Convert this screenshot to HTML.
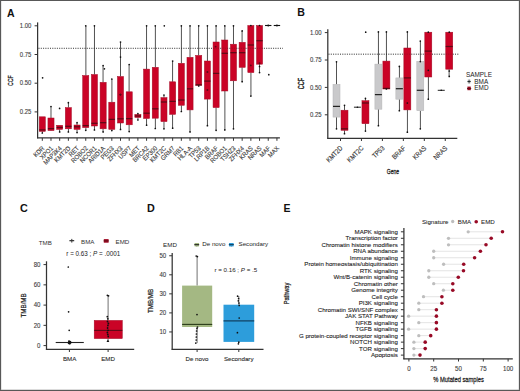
<!DOCTYPE html>
<html><head><meta charset="utf-8"><style>
html,body{margin:0;padding:0;background:#fff;}
body{width:520px;height:391px;overflow:hidden;}
svg{display:block;}
text{font-family:"Liberation Sans", sans-serif;}
</style></head><body>
<svg width="520" height="391" viewBox="0 0 520 391">
<rect x="0" y="0" width="520" height="391" fill="#fff"/>
<text transform="translate(7,16.6)" font-size="10.5" text-anchor="start" fill="#111" font-weight="bold" >A</text>
<line x1="34.6" y1="25.8" x2="37.6" y2="25.8" stroke="#333333" stroke-width="1" />
<text transform="translate(31.4,27.9) scale(0.93,1)" font-size="6.4" text-anchor="end" fill="#3a3a3a" font-weight="normal" stroke="#3a3a3a" stroke-width="0.1" >1.00</text>
<line x1="34.6" y1="54.5" x2="37.6" y2="54.5" stroke="#333333" stroke-width="1" />
<text transform="translate(31.4,56.6) scale(0.93,1)" font-size="6.4" text-anchor="end" fill="#3a3a3a" font-weight="normal" stroke="#3a3a3a" stroke-width="0.1" >0.75</text>
<line x1="34.6" y1="83.2" x2="37.6" y2="83.2" stroke="#333333" stroke-width="1" />
<text transform="translate(31.4,85.3) scale(0.93,1)" font-size="6.4" text-anchor="end" fill="#3a3a3a" font-weight="normal" stroke="#3a3a3a" stroke-width="0.1" >0.50</text>
<line x1="34.6" y1="111.9" x2="37.6" y2="111.9" stroke="#333333" stroke-width="1" />
<text transform="translate(31.4,114) scale(0.93,1)" font-size="6.4" text-anchor="end" fill="#3a3a3a" font-weight="normal" stroke="#3a3a3a" stroke-width="0.1" >0.25</text>
<line x1="37.6" y1="22.4" x2="37.6" y2="138.3" stroke="#333333" stroke-width="1.25" />
<line x1="37" y1="137.9" x2="279.9" y2="137.9" stroke="#333333" stroke-width="1.25" />
<text transform="translate(12.8,80.7) rotate(-90) scale(0.66,1)" font-size="7.8" text-anchor="middle" fill="#222" font-weight="normal" stroke="#222" stroke-width="0.3" >CCF</text>
<line x1="38.5" y1="48.3" x2="283" y2="48.3" stroke="#222" stroke-width="0.8" stroke-dasharray="1,1.3"/>
<line x1="42.3" y1="137.9" x2="42.3" y2="140.8" stroke="#333333" stroke-width="1" />
<line x1="42.4" y1="131.4" x2="42.4" y2="133" stroke="#262626" stroke-width="0.8" />
<rect x="39.25" y="116.8" width="6.1" height="14.6" fill="#ca0326" stroke="#a30d26" stroke-width="0.5"/>
<line x1="39.25" y1="129.9" x2="45.35" y2="129.9" stroke="#5c0a16" stroke-width="1.25" />
<circle cx="42.6" cy="77.8" r="0.85" fill="#111"/>
<circle cx="42.3" cy="133" r="0.85" fill="#111"/>
<text transform="translate(44.8,148.7) rotate(-45) scale(0.9,1)" font-size="6.5" text-anchor="end" fill="#3a3a3a" font-weight="normal" stroke="#3a3a3a" stroke-width="0.12" >KDR</text>
<line x1="50.99" y1="137.9" x2="50.99" y2="140.8" stroke="#333333" stroke-width="1" />
<line x1="50.99" y1="106.5" x2="50.99" y2="118" stroke="#262626" stroke-width="0.8" />
<line x1="50.99" y1="130.6" x2="50.99" y2="131" stroke="#262626" stroke-width="0.8" />
<rect x="47.94" y="118" width="6.1" height="12.6" fill="#ca0326" stroke="#a30d26" stroke-width="0.5"/>
<line x1="47.94" y1="128.6" x2="54.04" y2="128.6" stroke="#5c0a16" stroke-width="1.25" />
<circle cx="50.99" cy="106.5" r="0.85" fill="#111"/>
<text transform="translate(53.49,148.7) rotate(-45) scale(0.9,1)" font-size="6.5" text-anchor="end" fill="#3a3a3a" font-weight="normal" stroke="#3a3a3a" stroke-width="0.12" >XPO1</text>
<line x1="59.68" y1="137.9" x2="59.68" y2="140.8" stroke="#333333" stroke-width="1" />
<line x1="59.59" y1="129.4" x2="59.59" y2="131.9" stroke="#262626" stroke-width="0.8" />
<rect x="56.63" y="125.3" width="6.1" height="4.1" fill="#ca0326" stroke="#a30d26" stroke-width="0.5"/>
<line x1="56.63" y1="127.5" x2="62.73" y2="127.5" stroke="#5c0a16" stroke-width="1.25" />
<circle cx="59.6" cy="108.4" r="0.85" fill="#111"/>
<circle cx="59.68" cy="131.9" r="0.85" fill="#111"/>
<text transform="translate(62.18,148.7) rotate(-45) scale(0.9,1)" font-size="6.5" text-anchor="end" fill="#3a3a3a" font-weight="normal" stroke="#3a3a3a" stroke-width="0.12" >MAP3K4</text>
<line x1="68.37" y1="137.9" x2="68.37" y2="140.8" stroke="#333333" stroke-width="1" />
<line x1="68.44" y1="102.7" x2="68.44" y2="107.6" stroke="#262626" stroke-width="0.8" />
<line x1="68.44" y1="128.8" x2="68.44" y2="131.9" stroke="#262626" stroke-width="0.8" />
<rect x="65.32" y="107.6" width="6.1" height="21.2" fill="#ca0326" stroke="#a30d26" stroke-width="0.5"/>
<line x1="65.32" y1="126.3" x2="71.42" y2="126.3" stroke="#5c0a16" stroke-width="1.25" />
<circle cx="68.37" cy="102.7" r="0.85" fill="#111"/>
<circle cx="68.37" cy="131.9" r="0.85" fill="#111"/>
<text transform="translate(70.87,148.7) rotate(-45) scale(0.9,1)" font-size="6.5" text-anchor="end" fill="#3a3a3a" font-weight="normal" stroke="#3a3a3a" stroke-width="0.12" >KMT2D</text>
<line x1="77.06" y1="137.9" x2="77.06" y2="140.8" stroke="#333333" stroke-width="1" />
<line x1="77.03" y1="122.7" x2="77.03" y2="125" stroke="#262626" stroke-width="0.8" />
<line x1="77.03" y1="129.4" x2="77.03" y2="132.6" stroke="#262626" stroke-width="0.8" />
<rect x="74.01" y="125" width="6.1" height="4.4" fill="#ca0326" stroke="#a30d26" stroke-width="0.5"/>
<line x1="74.01" y1="126.8" x2="80.11" y2="126.8" stroke="#5c0a16" stroke-width="1.25" />
<circle cx="77.06" cy="122.7" r="0.85" fill="#111"/>
<circle cx="77.06" cy="132.6" r="0.85" fill="#111"/>
<text transform="translate(79.56,148.7) rotate(-45) scale(0.9,1)" font-size="6.5" text-anchor="end" fill="#3a3a3a" font-weight="normal" stroke="#3a3a3a" stroke-width="0.12" >RET</text>
<line x1="85.75" y1="137.9" x2="85.75" y2="140.8" stroke="#333333" stroke-width="1" />
<line x1="85.88" y1="25.8" x2="85.88" y2="75.5" stroke="#262626" stroke-width="0.8" />
<line x1="85.88" y1="127.6" x2="85.88" y2="130.3" stroke="#262626" stroke-width="0.8" />
<rect x="82.7" y="75.5" width="6.1" height="52.1" fill="#ca0326" stroke="#a30d26" stroke-width="0.5"/>
<line x1="82.7" y1="125.6" x2="88.8" y2="125.6" stroke="#5c0a16" stroke-width="1.25" />
<circle cx="85.75" cy="25.8" r="0.85" fill="#111"/>
<circle cx="85.75" cy="130.3" r="0.85" fill="#111"/>
<text transform="translate(88.25,148.7) rotate(-45) scale(0.9,1)" font-size="6.5" text-anchor="end" fill="#3a3a3a" font-weight="normal" stroke="#3a3a3a" stroke-width="0.12" >ROBO2</text>
<line x1="94.44" y1="137.9" x2="94.44" y2="140.8" stroke="#333333" stroke-width="1" />
<line x1="94.47" y1="25.8" x2="94.47" y2="74.5" stroke="#262626" stroke-width="0.8" />
<line x1="94.47" y1="126" x2="94.47" y2="129.9" stroke="#262626" stroke-width="0.8" />
<rect x="91.39" y="74.5" width="6.1" height="51.5" fill="#ca0326" stroke="#a30d26" stroke-width="0.5"/>
<line x1="91.39" y1="123.3" x2="97.49" y2="123.3" stroke="#5c0a16" stroke-width="1.25" />
<circle cx="94.44" cy="25.8" r="0.85" fill="#111"/>
<circle cx="94.44" cy="129.9" r="0.85" fill="#111"/>
<text transform="translate(96.94,148.7) rotate(-45) scale(0.9,1)" font-size="6.5" text-anchor="end" fill="#3a3a3a" font-weight="normal" stroke="#3a3a3a" stroke-width="0.12" >NCOR1</text>
<line x1="103.13" y1="137.9" x2="103.13" y2="140.8" stroke="#333333" stroke-width="1" />
<line x1="103.06" y1="65.6" x2="103.06" y2="82.3" stroke="#262626" stroke-width="0.8" />
<line x1="103.06" y1="128.8" x2="103.06" y2="131.9" stroke="#262626" stroke-width="0.8" />
<rect x="100.08" y="82.3" width="6.1" height="46.5" fill="#ca0326" stroke="#a30d26" stroke-width="0.5"/>
<line x1="100.08" y1="122.7" x2="106.18" y2="122.7" stroke="#5c0a16" stroke-width="1.25" />
<circle cx="103.13" cy="65.6" r="0.85" fill="#111"/>
<circle cx="104.4" cy="68.8" r="0.85" fill="#111"/>
<circle cx="103.13" cy="131.9" r="0.85" fill="#111"/>
<text transform="translate(105.63,148.7) rotate(-45) scale(0.9,1)" font-size="6.5" text-anchor="end" fill="#3a3a3a" font-weight="normal" stroke="#3a3a3a" stroke-width="0.12" >ARID1A</text>
<line x1="111.82" y1="137.9" x2="111.82" y2="140.8" stroke="#333333" stroke-width="1" />
<line x1="111.91" y1="79" x2="111.91" y2="102.2" stroke="#262626" stroke-width="0.8" />
<line x1="111.91" y1="129.4" x2="111.91" y2="130.6" stroke="#262626" stroke-width="0.8" />
<rect x="108.77" y="102.2" width="6.1" height="27.2" fill="#ca0326" stroke="#a30d26" stroke-width="0.5"/>
<line x1="108.77" y1="119.4" x2="114.87" y2="119.4" stroke="#5c0a16" stroke-width="1.25" />
<circle cx="111.82" cy="79" r="0.85" fill="#111"/>
<circle cx="111.82" cy="130.6" r="0.85" fill="#111"/>
<text transform="translate(114.32,148.7) rotate(-45) scale(0.9,1)" font-size="6.5" text-anchor="end" fill="#3a3a3a" font-weight="normal" stroke="#3a3a3a" stroke-width="0.12" >PEG3</text>
<line x1="120.51" y1="137.9" x2="120.51" y2="140.8" stroke="#333333" stroke-width="1" />
<line x1="120.5" y1="42" x2="120.5" y2="76.5" stroke="#262626" stroke-width="0.8" />
<line x1="120.5" y1="123" x2="120.5" y2="129.4" stroke="#262626" stroke-width="0.8" />
<rect x="117.46" y="76.5" width="6.1" height="46.5" fill="#ca0326" stroke="#a30d26" stroke-width="0.5"/>
<line x1="117.46" y1="118.8" x2="123.56" y2="118.8" stroke="#5c0a16" stroke-width="1.25" />
<circle cx="120.51" cy="42" r="0.85" fill="#111"/>
<circle cx="120.51" cy="57.1" r="0.85" fill="#111"/>
<circle cx="120.51" cy="94.6" r="0.85" fill="#111"/>
<circle cx="120.51" cy="129.4" r="0.85" fill="#111"/>
<text transform="translate(123.01,148.7) rotate(-45) scale(0.9,1)" font-size="6.5" text-anchor="end" fill="#3a3a3a" font-weight="normal" stroke="#3a3a3a" stroke-width="0.12" >ZFHX3</text>
<line x1="129.2" y1="137.9" x2="129.2" y2="140.8" stroke="#333333" stroke-width="1" />
<line x1="129.1" y1="64.5" x2="129.1" y2="91.8" stroke="#262626" stroke-width="0.8" />
<line x1="129.1" y1="124.8" x2="129.1" y2="131.6" stroke="#262626" stroke-width="0.8" />
<rect x="126.15" y="91.8" width="6.1" height="33" fill="#ca0326" stroke="#a30d26" stroke-width="0.5"/>
<line x1="126.15" y1="118.6" x2="132.25" y2="118.6" stroke="#5c0a16" stroke-width="1.25" />
<circle cx="129.2" cy="64.5" r="0.85" fill="#111"/>
<circle cx="129.2" cy="131.6" r="0.85" fill="#111"/>
<text transform="translate(131.7,148.7) rotate(-45) scale(0.9,1)" font-size="6.5" text-anchor="end" fill="#3a3a3a" font-weight="normal" stroke="#3a3a3a" stroke-width="0.12" >USP7</text>
<line x1="137.89" y1="137.9" x2="137.89" y2="140.8" stroke="#333333" stroke-width="1" />
<line x1="137.94" y1="113.7" x2="137.94" y2="114.4" stroke="#262626" stroke-width="0.8" />
<line x1="137.94" y1="117.5" x2="137.94" y2="120" stroke="#262626" stroke-width="0.8" />
<rect x="134.84" y="114.4" width="6.1" height="3.1" fill="#ca0326" stroke="#a30d26" stroke-width="0.5"/>
<line x1="134.84" y1="116" x2="140.94" y2="116" stroke="#5c0a16" stroke-width="1.25" />
<circle cx="137.89" cy="113.7" r="0.85" fill="#111"/>
<circle cx="137.89" cy="120" r="0.85" fill="#111"/>
<text transform="translate(140.39,148.7) rotate(-45) scale(0.9,1)" font-size="6.5" text-anchor="end" fill="#3a3a3a" font-weight="normal" stroke="#3a3a3a" stroke-width="0.12" >MET</text>
<line x1="146.58" y1="137.9" x2="146.58" y2="140.8" stroke="#333333" stroke-width="1" />
<line x1="146.54" y1="25.8" x2="146.54" y2="69.1" stroke="#262626" stroke-width="0.8" />
<line x1="146.54" y1="118.5" x2="146.54" y2="125.2" stroke="#262626" stroke-width="0.8" />
<rect x="143.53" y="69.1" width="6.1" height="49.4" fill="#ca0326" stroke="#a30d26" stroke-width="0.5"/>
<line x1="143.53" y1="113.2" x2="149.63" y2="113.2" stroke="#5c0a16" stroke-width="1.25" />
<circle cx="146.58" cy="25.8" r="0.85" fill="#111"/>
<circle cx="146.58" cy="125.2" r="0.85" fill="#111"/>
<text transform="translate(149.08,148.7) rotate(-45) scale(0.9,1)" font-size="6.5" text-anchor="end" fill="#3a3a3a" font-weight="normal" stroke="#3a3a3a" stroke-width="0.12" >BRCA2</text>
<line x1="155.27" y1="137.9" x2="155.27" y2="140.8" stroke="#333333" stroke-width="1" />
<line x1="155.38" y1="25.8" x2="155.38" y2="67.3" stroke="#262626" stroke-width="0.8" />
<line x1="155.38" y1="118.2" x2="155.38" y2="128.5" stroke="#262626" stroke-width="0.8" />
<rect x="152.22" y="67.3" width="6.1" height="50.9" fill="#ca0326" stroke="#a30d26" stroke-width="0.5"/>
<line x1="152.22" y1="108.8" x2="158.32" y2="108.8" stroke="#5c0a16" stroke-width="1.25" />
<circle cx="155.27" cy="25.8" r="0.85" fill="#111"/>
<circle cx="155.27" cy="128.5" r="0.85" fill="#111"/>
<text transform="translate(157.77,148.7) rotate(-45) scale(0.9,1)" font-size="6.5" text-anchor="end" fill="#3a3a3a" font-weight="normal" stroke="#3a3a3a" stroke-width="0.12" >EP300</text>
<line x1="163.96" y1="137.9" x2="163.96" y2="140.8" stroke="#333333" stroke-width="1" />
<line x1="163.98" y1="95" x2="163.98" y2="97.6" stroke="#262626" stroke-width="0.8" />
<line x1="163.98" y1="121.6" x2="163.98" y2="128.8" stroke="#262626" stroke-width="0.8" />
<rect x="160.91" y="97.6" width="6.1" height="24" fill="#ca0326" stroke="#a30d26" stroke-width="0.5"/>
<line x1="160.91" y1="102" x2="167.01" y2="102" stroke="#5c0a16" stroke-width="1.25" />
<circle cx="164.3" cy="25.8" r="0.85" fill="#111"/>
<circle cx="163.96" cy="95" r="0.85" fill="#111"/>
<circle cx="163.96" cy="128.8" r="0.85" fill="#111"/>
<text transform="translate(166.46,148.7) rotate(-45) scale(0.9,1)" font-size="6.5" text-anchor="end" fill="#3a3a3a" font-weight="normal" stroke="#3a3a3a" stroke-width="0.12" >KMT2C</text>
<line x1="172.65" y1="137.9" x2="172.65" y2="140.8" stroke="#333333" stroke-width="1" />
<line x1="172.57" y1="61.1" x2="172.57" y2="81.8" stroke="#262626" stroke-width="0.8" />
<line x1="172.57" y1="114.4" x2="172.57" y2="128.2" stroke="#262626" stroke-width="0.8" />
<rect x="169.6" y="81.8" width="6.1" height="32.6" fill="#ca0326" stroke="#a30d26" stroke-width="0.5"/>
<line x1="169.6" y1="101.4" x2="175.7" y2="101.4" stroke="#5c0a16" stroke-width="1.25" />
<circle cx="172.65" cy="61.1" r="0.85" fill="#111"/>
<circle cx="172.65" cy="128.2" r="0.85" fill="#111"/>
<text transform="translate(175.15,148.7) rotate(-45) scale(0.9,1)" font-size="6.5" text-anchor="end" fill="#3a3a3a" font-weight="normal" stroke="#3a3a3a" stroke-width="0.12" >GRM7</text>
<line x1="181.34" y1="137.9" x2="181.34" y2="140.8" stroke="#333333" stroke-width="1" />
<line x1="181.42" y1="25.8" x2="181.42" y2="63.3" stroke="#262626" stroke-width="0.8" />
<line x1="181.42" y1="105.3" x2="181.42" y2="111.5" stroke="#262626" stroke-width="0.8" />
<rect x="178.29" y="63.3" width="6.1" height="42" fill="#ca0326" stroke="#a30d26" stroke-width="0.5"/>
<line x1="178.29" y1="100" x2="184.39" y2="100" stroke="#5c0a16" stroke-width="1.25" />
<circle cx="181.34" cy="25.8" r="0.85" fill="#111"/>
<circle cx="181.34" cy="111.5" r="0.85" fill="#111"/>
<text transform="translate(183.84,148.7) rotate(-45) scale(0.9,1)" font-size="6.5" text-anchor="end" fill="#3a3a3a" font-weight="normal" stroke="#3a3a3a" stroke-width="0.12" >RB1</text>
<line x1="190.03" y1="137.9" x2="190.03" y2="140.8" stroke="#333333" stroke-width="1" />
<line x1="190.01" y1="25.8" x2="190.01" y2="57.3" stroke="#262626" stroke-width="0.8" />
<line x1="190.01" y1="109.9" x2="190.01" y2="131.9" stroke="#262626" stroke-width="0.8" />
<rect x="186.98" y="57.3" width="6.1" height="52.6" fill="#ca0326" stroke="#a30d26" stroke-width="0.5"/>
<line x1="186.98" y1="88.8" x2="193.08" y2="88.8" stroke="#5c0a16" stroke-width="1.25" />
<circle cx="190.03" cy="25.8" r="0.85" fill="#111"/>
<circle cx="190.03" cy="131.9" r="0.85" fill="#111"/>
<text transform="translate(192.53,148.7) rotate(-45) scale(0.9,1)" font-size="6.5" text-anchor="end" fill="#3a3a3a" font-weight="normal" stroke="#3a3a3a" stroke-width="0.12" >HLA-A</text>
<line x1="198.72" y1="137.9" x2="198.72" y2="140.8" stroke="#333333" stroke-width="1" />
<line x1="198.61" y1="25.8" x2="198.61" y2="55.4" stroke="#262626" stroke-width="0.8" />
<line x1="198.61" y1="85.3" x2="198.61" y2="86" stroke="#262626" stroke-width="0.8" />
<rect x="195.67" y="55.4" width="6.1" height="29.9" fill="#ca0326" stroke="#a30d26" stroke-width="0.5"/>
<line x1="195.67" y1="84.8" x2="201.77" y2="84.8" stroke="#5c0a16" stroke-width="1.25" />
<circle cx="198.72" cy="25.8" r="0.85" fill="#111"/>
<circle cx="198.72" cy="86" r="0.85" fill="#111"/>
<text transform="translate(201.22,148.7) rotate(-45) scale(0.9,1)" font-size="6.5" text-anchor="end" fill="#3a3a3a" font-weight="normal" stroke="#3a3a3a" stroke-width="0.12" >TP53</text>
<line x1="207.41" y1="137.9" x2="207.41" y2="140.8" stroke="#333333" stroke-width="1" />
<line x1="207.45" y1="25.8" x2="207.45" y2="61" stroke="#262626" stroke-width="0.8" />
<line x1="207.45" y1="99.1" x2="207.45" y2="125.7" stroke="#262626" stroke-width="0.8" />
<rect x="204.36" y="61" width="6.1" height="38.1" fill="#ca0326" stroke="#a30d26" stroke-width="0.5"/>
<line x1="204.36" y1="81.1" x2="210.46" y2="81.1" stroke="#5c0a16" stroke-width="1.25" />
<circle cx="207.41" cy="25.8" r="0.85" fill="#111"/>
<circle cx="207.41" cy="125.7" r="0.85" fill="#111"/>
<text transform="translate(209.91,148.7) rotate(-45) scale(0.9,1)" font-size="6.5" text-anchor="end" fill="#3a3a3a" font-weight="normal" stroke="#3a3a3a" stroke-width="0.12" >LRP1B</text>
<line x1="216.1" y1="137.9" x2="216.1" y2="140.8" stroke="#333333" stroke-width="1" />
<line x1="216.05" y1="25.8" x2="216.05" y2="42" stroke="#262626" stroke-width="0.8" />
<line x1="216.05" y1="107.6" x2="216.05" y2="130.3" stroke="#262626" stroke-width="0.8" />
<rect x="213.05" y="42" width="6.1" height="65.6" fill="#ca0326" stroke="#a30d26" stroke-width="0.5"/>
<line x1="213.05" y1="73.4" x2="219.15" y2="73.4" stroke="#5c0a16" stroke-width="1.25" />
<circle cx="216.1" cy="25.8" r="0.85" fill="#111"/>
<circle cx="216.1" cy="130.3" r="0.85" fill="#111"/>
<text transform="translate(218.6,148.7) rotate(-45) scale(0.9,1)" font-size="6.5" text-anchor="end" fill="#3a3a3a" font-weight="normal" stroke="#3a3a3a" stroke-width="0.12" >BRAF</text>
<line x1="224.79" y1="137.9" x2="224.79" y2="140.8" stroke="#333333" stroke-width="1" />
<line x1="224.89" y1="25.8" x2="224.89" y2="40" stroke="#262626" stroke-width="0.8" />
<line x1="224.89" y1="91" x2="224.89" y2="129.9" stroke="#262626" stroke-width="0.8" />
<rect x="221.74" y="40" width="6.1" height="51" fill="#ca0326" stroke="#a30d26" stroke-width="0.5"/>
<line x1="221.74" y1="53.3" x2="227.84" y2="53.3" stroke="#5c0a16" stroke-width="1.25" />
<circle cx="224.79" cy="25.8" r="0.85" fill="#111"/>
<circle cx="224.79" cy="129.9" r="0.85" fill="#111"/>
<text transform="translate(227.29,148.7) rotate(-45) scale(0.9,1)" font-size="6.5" text-anchor="end" fill="#3a3a3a" font-weight="normal" stroke="#3a3a3a" stroke-width="0.12" >ROBO1</text>
<line x1="233.48" y1="137.9" x2="233.48" y2="140.8" stroke="#333333" stroke-width="1" />
<line x1="233.49" y1="25.8" x2="233.49" y2="44.2" stroke="#262626" stroke-width="0.8" />
<line x1="233.49" y1="80.8" x2="233.49" y2="128.8" stroke="#262626" stroke-width="0.8" />
<rect x="230.43" y="44.2" width="6.1" height="36.6" fill="#ca0326" stroke="#a30d26" stroke-width="0.5"/>
<line x1="230.43" y1="52.7" x2="236.53" y2="52.7" stroke="#5c0a16" stroke-width="1.25" />
<circle cx="233.48" cy="25.8" r="0.85" fill="#111"/>
<circle cx="233.48" cy="128.8" r="0.85" fill="#111"/>
<text transform="translate(235.98,148.7) rotate(-45) scale(0.9,1)" font-size="6.5" text-anchor="end" fill="#3a3a3a" font-weight="normal" stroke="#3a3a3a" stroke-width="0.12" >TSHZ3</text>
<line x1="242.17" y1="137.9" x2="242.17" y2="140.8" stroke="#333333" stroke-width="1" />
<line x1="242.08" y1="30.9" x2="242.08" y2="42.3" stroke="#262626" stroke-width="0.8" />
<line x1="242.08" y1="67.4" x2="242.08" y2="81.7" stroke="#262626" stroke-width="0.8" />
<rect x="239.12" y="42.3" width="6.1" height="25.1" fill="#ca0326" stroke="#a30d26" stroke-width="0.5"/>
<line x1="239.12" y1="52.7" x2="245.22" y2="52.7" stroke="#5c0a16" stroke-width="1.25" />
<circle cx="242.17" cy="30.9" r="0.85" fill="#111"/>
<circle cx="242.17" cy="81.7" r="0.85" fill="#111"/>
<text transform="translate(244.67,148.7) rotate(-45) scale(0.9,1)" font-size="6.5" text-anchor="end" fill="#3a3a3a" font-weight="normal" stroke="#3a3a3a" stroke-width="0.12" >ZFHX4</text>
<line x1="250.86" y1="137.9" x2="250.86" y2="140.8" stroke="#333333" stroke-width="1" />
<line x1="250.93" y1="72.6" x2="250.93" y2="96.1" stroke="#262626" stroke-width="0.8" />
<rect x="247.81" y="25.5" width="6.1" height="47.1" fill="#ca0326" stroke="#a30d26" stroke-width="0.5"/>
<line x1="247.81" y1="45" x2="253.91" y2="45" stroke="#5c0a16" stroke-width="1.25" />
<circle cx="250.86" cy="25.5" r="0.85" fill="#111"/>
<circle cx="250.86" cy="96.1" r="0.85" fill="#111"/>
<text transform="translate(253.36,148.7) rotate(-45) scale(0.9,1)" font-size="6.5" text-anchor="end" fill="#3a3a3a" font-weight="normal" stroke="#3a3a3a" stroke-width="0.12" >KRAS</text>
<line x1="259.55" y1="137.9" x2="259.55" y2="140.8" stroke="#333333" stroke-width="1" />
<line x1="259.52" y1="64.2" x2="259.52" y2="72.6" stroke="#262626" stroke-width="0.8" />
<rect x="256.5" y="25.5" width="6.1" height="38.7" fill="#ca0326" stroke="#a30d26" stroke-width="0.5"/>
<line x1="256.5" y1="40.7" x2="262.6" y2="40.7" stroke="#5c0a16" stroke-width="1.25" />
<circle cx="259.55" cy="25.5" r="0.85" fill="#111"/>
<circle cx="259.55" cy="66.5" r="0.85" fill="#111"/>
<circle cx="259.55" cy="72.6" r="0.85" fill="#111"/>
<text transform="translate(262.05,148.7) rotate(-45) scale(0.9,1)" font-size="6.5" text-anchor="end" fill="#3a3a3a" font-weight="normal" stroke="#3a3a3a" stroke-width="0.12" >NRAS</text>
<line x1="268.24" y1="137.9" x2="268.24" y2="140.8" stroke="#333333" stroke-width="1" />
<line x1="265.04" y1="25.5" x2="271.44" y2="25.5" stroke="#111" stroke-width="1.1" />
<circle cx="268.24" cy="25.5" r="1" fill="#111"/>
<circle cx="268.8" cy="74.7" r="0.85" fill="#111"/>
<text transform="translate(270.74,148.7) rotate(-45) scale(0.9,1)" font-size="6.5" text-anchor="end" fill="#3a3a3a" font-weight="normal" stroke="#3a3a3a" stroke-width="0.12" >MAF</text>
<line x1="276.93" y1="137.9" x2="276.93" y2="140.8" stroke="#333333" stroke-width="1" />
<line x1="273.73" y1="25.5" x2="280.13" y2="25.5" stroke="#111" stroke-width="1.1" />
<circle cx="276.93" cy="25.5" r="1" fill="#111"/>
<text transform="translate(279.43,148.7) rotate(-45) scale(0.9,1)" font-size="6.5" text-anchor="end" fill="#3a3a3a" font-weight="normal" stroke="#3a3a3a" stroke-width="0.12" >MAX</text>
<circle cx="207.4" cy="72" r="0.95" fill="#5a0a18"/>
<circle cx="207.4" cy="90" r="0.95" fill="#5a0a18"/>
<circle cx="215.6" cy="46.6" r="0.95" fill="#5a0a18"/>
<circle cx="250.8" cy="65.4" r="0.95" fill="#5a0a18"/>
<circle cx="259.6" cy="63.2" r="0.95" fill="#5a0a18"/>
<circle cx="120.3" cy="94.6" r="0.95" fill="#5a0a18"/>
<line x1="38.5" y1="48.3" x2="283" y2="48.3" stroke="#222" stroke-width="0.8" stroke-dasharray="1,1.3" stroke-opacity="0.3"/>
<text transform="translate(297.3,16.2)" font-size="10.6" text-anchor="start" fill="#111" font-weight="bold" >B</text>
<line x1="324.8" y1="32.6" x2="327.8" y2="32.6" stroke="#333333" stroke-width="1" />
<text transform="translate(321.6,34.7) scale(0.93,1)" font-size="6.4" text-anchor="end" fill="#3a3a3a" font-weight="normal" stroke="#3a3a3a" stroke-width="0.1" >1.00</text>
<line x1="324.8" y1="60" x2="327.8" y2="60" stroke="#333333" stroke-width="1" />
<text transform="translate(321.6,62.1) scale(0.93,1)" font-size="6.4" text-anchor="end" fill="#3a3a3a" font-weight="normal" stroke="#3a3a3a" stroke-width="0.1" >0.75</text>
<line x1="324.8" y1="87.4" x2="327.8" y2="87.4" stroke="#333333" stroke-width="1" />
<text transform="translate(321.6,89.5) scale(0.93,1)" font-size="6.4" text-anchor="end" fill="#3a3a3a" font-weight="normal" stroke="#3a3a3a" stroke-width="0.1" >0.50</text>
<line x1="324.8" y1="114.8" x2="327.8" y2="114.8" stroke="#333333" stroke-width="1" />
<text transform="translate(321.6,116.9) scale(0.93,1)" font-size="6.4" text-anchor="end" fill="#3a3a3a" font-weight="normal" stroke="#3a3a3a" stroke-width="0.1" >0.25</text>
<line x1="327.8" y1="29.2" x2="327.8" y2="138.8" stroke="#333333" stroke-width="1.25" />
<line x1="327.2" y1="138.4" x2="457.3" y2="138.4" stroke="#333333" stroke-width="1.25" />
<text transform="translate(304.2,83.6) rotate(-90) scale(0.66,1)" font-size="8.2" text-anchor="middle" fill="#222" font-weight="normal" stroke="#222" stroke-width="0.4" >CCF</text>
<line x1="328.5" y1="54.2" x2="458.4" y2="54.2" stroke="#222" stroke-width="0.8" stroke-dasharray="1,1.3"/>
<line x1="340.5" y1="138.4" x2="340.5" y2="141" stroke="#333333" stroke-width="1" />
<line x1="336.5" y1="61.8" x2="336.5" y2="84.4" stroke="#262626" stroke-width="0.8" />
<line x1="336.5" y1="117.1" x2="336.5" y2="128.8" stroke="#262626" stroke-width="0.8" />
<rect x="333" y="84.4" width="7" height="32.7" fill="#c9c9cb" stroke="#b4b4b6" stroke-width="0.5"/>
<line x1="333" y1="106.4" x2="340" y2="106.4" stroke="#222" stroke-width="1.25" />
<circle cx="336.5" cy="61.8" r="0.85" fill="#111"/>
<circle cx="336.5" cy="128.8" r="0.85" fill="#111"/>
<line x1="344.5" y1="105.3" x2="344.5" y2="110.2" stroke="#262626" stroke-width="0.8" />
<line x1="344.5" y1="130.3" x2="344.5" y2="133.7" stroke="#262626" stroke-width="0.8" />
<rect x="341" y="110.2" width="7" height="20.1" fill="#ca0326" stroke="#a30d26" stroke-width="0.5"/>
<line x1="341" y1="128.8" x2="348" y2="128.8" stroke="#5c0a16" stroke-width="1.25" />
<circle cx="344.5" cy="105.3" r="0.85" fill="#111"/>
<circle cx="344.5" cy="133.7" r="0.85" fill="#111"/>
<text transform="translate(343.1,148.6) rotate(-45) scale(0.86,1)" font-size="6.9" text-anchor="end" fill="#3a3a3a" font-weight="normal" stroke="#3a3a3a" stroke-width="0.15" >KMT2D</text>
<line x1="361.45" y1="138.4" x2="361.45" y2="141" stroke="#333333" stroke-width="1" />
<line x1="353.95" y1="107.2" x2="360.95" y2="107.2" stroke="#222" stroke-width="1" />
<circle cx="357.45" cy="107.2" r="0.8" fill="#111"/>
<line x1="365.48" y1="98.4" x2="365.48" y2="100.7" stroke="#262626" stroke-width="0.8" />
<line x1="365.48" y1="123.7" x2="365.48" y2="131.1" stroke="#262626" stroke-width="0.8" />
<rect x="361.95" y="100.7" width="7" height="23" fill="#ca0326" stroke="#a30d26" stroke-width="0.5"/>
<line x1="361.95" y1="103" x2="368.95" y2="103" stroke="#5c0a16" stroke-width="1.25" />
<circle cx="365.7" cy="32.2" r="0.85" fill="#111"/>
<circle cx="365.45" cy="98.4" r="0.85" fill="#111"/>
<circle cx="365.45" cy="131.1" r="0.85" fill="#111"/>
<text transform="translate(364.05,148.6) rotate(-45) scale(0.86,1)" font-size="6.9" text-anchor="end" fill="#3a3a3a" font-weight="normal" stroke="#3a3a3a" stroke-width="0.15" >KMT2C</text>
<line x1="382.4" y1="138.4" x2="382.4" y2="141" stroke="#333333" stroke-width="1" />
<line x1="378.45" y1="31.9" x2="378.45" y2="64.1" stroke="#262626" stroke-width="0.8" />
<line x1="378.45" y1="109.2" x2="378.45" y2="125.7" stroke="#262626" stroke-width="0.8" />
<rect x="374.9" y="64.1" width="7" height="45.1" fill="#c9c9cb" stroke="#b4b4b6" stroke-width="0.5"/>
<line x1="374.9" y1="94.6" x2="381.9" y2="94.6" stroke="#222" stroke-width="1.25" />
<circle cx="378.4" cy="31.9" r="0.85" fill="#111"/>
<circle cx="378.4" cy="125.7" r="0.85" fill="#111"/>
<line x1="386.45" y1="31.9" x2="386.45" y2="61.1" stroke="#262626" stroke-width="0.8" />
<rect x="382.9" y="61.1" width="7" height="27.9" fill="#ca0326" stroke="#a30d26" stroke-width="0.5"/>
<line x1="382.9" y1="88.4" x2="389.9" y2="88.4" stroke="#5c0a16" stroke-width="1.25" />
<circle cx="386.4" cy="31.9" r="0.85" fill="#111"/>
<circle cx="386.4" cy="89" r="0.85" fill="#111"/>
<text transform="translate(385,148.6) rotate(-45) scale(0.86,1)" font-size="6.9" text-anchor="end" fill="#3a3a3a" font-weight="normal" stroke="#3a3a3a" stroke-width="0.15" >TP53</text>
<line x1="403.35" y1="138.4" x2="403.35" y2="141" stroke="#333333" stroke-width="1" />
<line x1="399.43" y1="66.4" x2="399.43" y2="77.9" stroke="#262626" stroke-width="0.8" />
<line x1="399.43" y1="99.2" x2="399.43" y2="110.7" stroke="#262626" stroke-width="0.8" />
<rect x="395.85" y="77.9" width="7" height="21.3" fill="#c9c9cb" stroke="#b4b4b6" stroke-width="0.5"/>
<line x1="395.85" y1="88.7" x2="402.85" y2="88.7" stroke="#222" stroke-width="1.25" />
<circle cx="399.35" cy="66.4" r="0.85" fill="#111"/>
<circle cx="399.35" cy="110.7" r="0.85" fill="#111"/>
<line x1="407.43" y1="31.9" x2="407.43" y2="48" stroke="#262626" stroke-width="0.8" />
<line x1="407.43" y1="109.9" x2="407.43" y2="132.2" stroke="#262626" stroke-width="0.8" />
<rect x="403.85" y="48" width="7" height="61.9" fill="#ca0326" stroke="#a30d26" stroke-width="0.5"/>
<line x1="403.85" y1="77.9" x2="410.85" y2="77.9" stroke="#5c0a16" stroke-width="1.25" />
<circle cx="407.35" cy="31.9" r="0.85" fill="#111"/>
<circle cx="407.35" cy="103" r="0.85" fill="#111"/>
<circle cx="407.35" cy="132.2" r="0.85" fill="#111"/>
<text transform="translate(405.95,148.6) rotate(-45) scale(0.86,1)" font-size="6.9" text-anchor="end" fill="#3a3a3a" font-weight="normal" stroke="#3a3a3a" stroke-width="0.15" >BRAF</text>
<line x1="424.3" y1="138.4" x2="424.3" y2="141" stroke="#333333" stroke-width="1" />
<line x1="420.4" y1="41.1" x2="420.4" y2="61.4" stroke="#262626" stroke-width="0.8" />
<line x1="420.4" y1="110.7" x2="420.4" y2="128.8" stroke="#262626" stroke-width="0.8" />
<rect x="416.8" y="61.4" width="7" height="49.3" fill="#c9c9cb" stroke="#b4b4b6" stroke-width="0.5"/>
<line x1="416.8" y1="90.3" x2="423.8" y2="90.3" stroke="#222" stroke-width="1.25" />
<circle cx="420.3" cy="41.1" r="0.85" fill="#111"/>
<circle cx="420.3" cy="61.6" r="0.85" fill="#111"/>
<circle cx="420.3" cy="128.8" r="0.85" fill="#111"/>
<line x1="428.4" y1="77" x2="428.4" y2="99.2" stroke="#262626" stroke-width="0.8" />
<rect x="424.8" y="32.2" width="7" height="44.8" fill="#ca0326" stroke="#a30d26" stroke-width="0.5"/>
<line x1="424.8" y1="51.1" x2="431.8" y2="51.1" stroke="#5c0a16" stroke-width="1.25" />
<circle cx="428.3" cy="32.2" r="0.85" fill="#111"/>
<circle cx="428.3" cy="70.3" r="0.85" fill="#111"/>
<circle cx="428.3" cy="99.2" r="0.85" fill="#111"/>
<text transform="translate(426.9,148.6) rotate(-45) scale(0.86,1)" font-size="6.9" text-anchor="end" fill="#3a3a3a" font-weight="normal" stroke="#3a3a3a" stroke-width="0.15" >KRAS</text>
<line x1="445.25" y1="138.4" x2="445.25" y2="141" stroke="#333333" stroke-width="1" />
<line x1="437.75" y1="90.3" x2="444.75" y2="90.3" stroke="#222" stroke-width="1" />
<circle cx="441.25" cy="90.3" r="0.8" fill="#111"/>
<line x1="449.12" y1="69.2" x2="449.12" y2="76.4" stroke="#262626" stroke-width="0.8" />
<rect x="445.75" y="32.2" width="7" height="37" fill="#ca0326" stroke="#a30d26" stroke-width="0.5"/>
<line x1="445.75" y1="46.5" x2="452.75" y2="46.5" stroke="#5c0a16" stroke-width="1.25" />
<circle cx="449.25" cy="32.2" r="0.85" fill="#111"/>
<circle cx="449.25" cy="71" r="0.85" fill="#111"/>
<circle cx="449.25" cy="76.4" r="0.85" fill="#111"/>
<text transform="translate(447.85,148.6) rotate(-45) scale(0.86,1)" font-size="6.9" text-anchor="end" fill="#3a3a3a" font-weight="normal" stroke="#3a3a3a" stroke-width="0.15" >NRAS</text>
<line x1="328.5" y1="54.2" x2="458.4" y2="54.2" stroke="#222" stroke-width="0.8" stroke-dasharray="1,1.3" stroke-opacity="0.3"/>
<text transform="translate(393,173.9) scale(0.63,1)" font-size="8" text-anchor="middle" fill="#222" font-weight="normal" stroke="#222" stroke-width="0.3" >Gene</text>
<text transform="translate(466,76.5)" font-size="6.4" text-anchor="start" fill="#222" font-weight="normal" >SAMPLE</text>
<rect x="467.6" y="79.6" width="3" height="3.8" fill="#d0d0d2" stroke="none" stroke-width="0.5"/>
<line x1="467.5" y1="81.5" x2="470.7" y2="81.5" stroke="#1a2a2a" stroke-width="1" />
<line x1="469.1" y1="79.6" x2="469.1" y2="83.4" stroke="#333" stroke-width="0.8" />
<text transform="translate(474.3,83.5)" font-size="6.4" text-anchor="start" fill="#222" font-weight="normal" >BMA</text>
<rect x="467.4" y="86.6" width="3.4" height="3.6" fill="#9a0a22" stroke="none" stroke-width="0.5"/>
<line x1="467" y1="88.5" x2="471.2" y2="88.5" stroke="#5c0a16" stroke-width="0.9" />
<text transform="translate(474.3,90.4)" font-size="6.4" text-anchor="start" fill="#222" font-weight="normal" >EMD</text>
<text transform="translate(20,212.2)" font-size="10.8" text-anchor="start" fill="#111" font-weight="bold" >C</text>
<line x1="43.5" y1="345.6" x2="46.5" y2="345.6" stroke="#333333" stroke-width="1" />
<text transform="translate(40.5,347.75) scale(0.95,1)" font-size="6.4" text-anchor="end" fill="#3a3a3a" font-weight="normal" stroke="#3a3a3a" stroke-width="0.1" >0</text>
<line x1="43.5" y1="325.35" x2="46.5" y2="325.35" stroke="#333333" stroke-width="1" />
<text transform="translate(40.5,327.5) scale(0.95,1)" font-size="6.4" text-anchor="end" fill="#3a3a3a" font-weight="normal" stroke="#3a3a3a" stroke-width="0.1" >20</text>
<line x1="43.5" y1="305.1" x2="46.5" y2="305.1" stroke="#333333" stroke-width="1" />
<text transform="translate(40.5,307.25) scale(0.95,1)" font-size="6.4" text-anchor="end" fill="#3a3a3a" font-weight="normal" stroke="#3a3a3a" stroke-width="0.1" >40</text>
<line x1="43.5" y1="284.85" x2="46.5" y2="284.85" stroke="#333333" stroke-width="1" />
<text transform="translate(40.5,287) scale(0.95,1)" font-size="6.4" text-anchor="end" fill="#3a3a3a" font-weight="normal" stroke="#3a3a3a" stroke-width="0.1" >60</text>
<line x1="43.5" y1="264.6" x2="46.5" y2="264.6" stroke="#333333" stroke-width="1" />
<text transform="translate(40.5,266.75) scale(0.95,1)" font-size="6.4" text-anchor="end" fill="#3a3a3a" font-weight="normal" stroke="#3a3a3a" stroke-width="0.1" >80</text>
<line x1="46.5" y1="261.3" x2="46.5" y2="349.8" stroke="#333333" stroke-width="1.25" />
<line x1="45.9" y1="349.3" x2="134.2" y2="349.3" stroke="#333333" stroke-width="1.25" />
<text transform="translate(26.4,305.4) rotate(-90) scale(0.8,1)" font-size="7.8" text-anchor="middle" fill="#222" font-weight="normal" stroke="#222" stroke-width="0.25" >TMB/MB</text>
<line x1="69.4" y1="349.3" x2="69.4" y2="352" stroke="#333333" stroke-width="1" />
<line x1="108.1" y1="349.3" x2="108.1" y2="352" stroke="#333333" stroke-width="1" />
<line x1="55.7" y1="342.5" x2="83.8" y2="342.5" stroke="#222" stroke-width="1.1" />
<circle cx="68.3" cy="267" r="0.85" fill="#111"/>
<circle cx="68.6" cy="311.8" r="0.85" fill="#111"/>
<circle cx="69.2" cy="330.3" r="0.85" fill="#111"/>
<circle cx="69" cy="341.3" r="1.05" fill="#111"/>
<circle cx="70" cy="341.8" r="1.05" fill="#111"/>
<circle cx="70.6" cy="342.6" r="1.05" fill="#111"/>
<circle cx="68.8" cy="343.2" r="1.05" fill="#111"/>
<circle cx="69.8" cy="343.6" r="1.05" fill="#111"/>
<circle cx="70.2" cy="342.2" r="1.05" fill="#111"/>
<line x1="108.1" y1="295.3" x2="108.1" y2="320.4" stroke="#333" stroke-width="0.7" />
<line x1="108.1" y1="338.6" x2="108.1" y2="341.3" stroke="#333" stroke-width="0.7" />
<rect x="94.2" y="320.4" width="28.1" height="18.2" fill="#ca0326" stroke="#a30d26" stroke-width="0.5"/>
<line x1="94.2" y1="330.4" x2="122.3" y2="330.4" stroke="#5c0a16" stroke-width="1.1" />
<circle cx="107.4" cy="295.3" r="0.9" fill="#111"/>
<circle cx="108.5" cy="295.8" r="0.9" fill="#111"/>
<circle cx="107.3" cy="316.7" r="0.9" fill="#111"/>
<circle cx="107.8" cy="318.8" r="0.9" fill="#111"/>
<circle cx="107.5" cy="321.5" r="0.9" fill="#111"/>
<circle cx="108.4" cy="323.5" r="0.9" fill="#111"/>
<circle cx="107.9" cy="325.5" r="0.9" fill="#111"/>
<circle cx="107.6" cy="328" r="0.9" fill="#111"/>
<circle cx="108" cy="330.3" r="0.9" fill="#111"/>
<circle cx="107.4" cy="332.5" r="0.9" fill="#111"/>
<circle cx="107.8" cy="334.5" r="0.9" fill="#111"/>
<circle cx="108.2" cy="336.5" r="0.9" fill="#111"/>
<path d="M107.9,339.6 L109.3,342.0 L106.5,342.0 Z" fill="#111"/>
<text transform="translate(69.7,360.9)" font-size="6.2" text-anchor="middle" fill="#2a2a2a" font-weight="normal" stroke="#2a2a2a" stroke-width="0.1" >BMA</text>
<text transform="translate(108.1,360.9)" font-size="6.2" text-anchor="middle" fill="#2a2a2a" font-weight="normal" stroke="#2a2a2a" stroke-width="0.1" >EMD</text>
<text transform="translate(38.8,245)" font-size="6.2" text-anchor="start" fill="#333" font-weight="normal" >TMB</text>
<line x1="69.4" y1="240.7" x2="74.2" y2="240.7" stroke="#1a1a1a" stroke-width="1.1" />
<line x1="71.8" y1="238.9" x2="71.8" y2="242.6" stroke="#333" stroke-width="1" />
<text transform="translate(81,243.7)" font-size="6.2" text-anchor="start" fill="#333" font-weight="normal" >BMA</text>
<rect x="103.8" y="239.1" width="4.8" height="3.6" fill="#a00b24" stroke="none" stroke-width="0.5"/>
<line x1="103.6" y1="240.9" x2="108.8" y2="240.9" stroke="#5c0a16" stroke-width="0.9" />
<text transform="translate(115.5,243.7)" font-size="6.2" text-anchor="start" fill="#333" font-weight="normal" >EMD</text>
<text transform="translate(66.3,255.7)" font-size="6.3" fill="#222">r = 0.63 ; <tspan font-style="italic">P</tspan> = .0001</text>
<text transform="translate(147,212.2)" font-size="10.8" text-anchor="start" fill="#111" font-weight="bold" >D</text>
<line x1="169.2" y1="331.95" x2="172.2" y2="331.95" stroke="#333333" stroke-width="1" />
<text transform="translate(166.2,334.1) scale(0.95,1)" font-size="6.4" text-anchor="end" fill="#3a3a3a" font-weight="normal" stroke="#3a3a3a" stroke-width="0.1" >10</text>
<line x1="169.2" y1="312.9" x2="172.2" y2="312.9" stroke="#333333" stroke-width="1" />
<text transform="translate(166.2,315.05) scale(0.95,1)" font-size="6.4" text-anchor="end" fill="#3a3a3a" font-weight="normal" stroke="#3a3a3a" stroke-width="0.1" >20</text>
<line x1="169.2" y1="293.85" x2="172.2" y2="293.85" stroke="#333333" stroke-width="1" />
<text transform="translate(166.2,296) scale(0.95,1)" font-size="6.4" text-anchor="end" fill="#3a3a3a" font-weight="normal" stroke="#3a3a3a" stroke-width="0.1" >30</text>
<line x1="169.2" y1="274.8" x2="172.2" y2="274.8" stroke="#333333" stroke-width="1" />
<text transform="translate(166.2,276.95) scale(0.95,1)" font-size="6.4" text-anchor="end" fill="#3a3a3a" font-weight="normal" stroke="#3a3a3a" stroke-width="0.1" >40</text>
<line x1="169.2" y1="255.75" x2="172.2" y2="255.75" stroke="#333333" stroke-width="1" />
<text transform="translate(166.2,257.9) scale(0.95,1)" font-size="6.4" text-anchor="end" fill="#3a3a3a" font-weight="normal" stroke="#3a3a3a" stroke-width="0.1" >50</text>
<line x1="172.2" y1="252.9" x2="172.2" y2="349.8" stroke="#333333" stroke-width="1.25" />
<line x1="171.6" y1="349.3" x2="263.5" y2="349.3" stroke="#333333" stroke-width="1.25" />
<text transform="translate(153,301) rotate(-90) scale(0.8,1)" font-size="7.8" text-anchor="middle" fill="#222" font-weight="normal" stroke="#222" stroke-width="0.25" >TMB/MB</text>
<line x1="197.1" y1="349.3" x2="197.1" y2="352" stroke="#333333" stroke-width="1" />
<line x1="238.8" y1="349.3" x2="238.8" y2="352" stroke="#333333" stroke-width="1" />
<line x1="197.1" y1="255.8" x2="197.1" y2="285.6" stroke="#333" stroke-width="0.7" />
<line x1="197.1" y1="327" x2="197.1" y2="343.1" stroke="#333" stroke-width="0.7" />
<rect x="182.1" y="285.6" width="30.1" height="41.4" fill="#a4b883" stroke="none" stroke-width="0.5"/>
<line x1="182.1" y1="324.4" x2="212.2" y2="324.4" stroke="#2a3a18" stroke-width="1.1" />
<circle cx="196.2" cy="256" r="0.85" fill="#111"/>
<circle cx="197.4" cy="256.6" r="0.85" fill="#111"/>
<circle cx="197" cy="314.6" r="0.85" fill="#111"/>
<circle cx="197.5" cy="327" r="0.85" fill="#111"/>
<circle cx="197" cy="328.5" r="0.85" fill="#111"/>
<circle cx="196.6" cy="331" r="0.85" fill="#111"/>
<circle cx="196.4" cy="334" r="0.85" fill="#111"/>
<circle cx="196.3" cy="337" r="0.85" fill="#111"/>
<circle cx="196.2" cy="340" r="0.85" fill="#111"/>
<circle cx="195.8" cy="343.1" r="0.85" fill="#111"/>
<line x1="238.8" y1="296" x2="238.8" y2="304.7" stroke="#333" stroke-width="0.7" />
<rect x="223.5" y="304.7" width="30.7" height="37.2" fill="#2d9ddb" stroke="none" stroke-width="0.5"/>
<line x1="223.5" y1="320.9" x2="254.2" y2="320.9" stroke="#0f3552" stroke-width="1.1" />
<circle cx="237.6" cy="296.2" r="0.85" fill="#111"/>
<circle cx="238.6" cy="298.5" r="0.85" fill="#111"/>
<circle cx="238.3" cy="300.8" r="0.85" fill="#111"/>
<circle cx="239" cy="303" r="0.85" fill="#111"/>
<circle cx="239.2" cy="305.4" r="0.85" fill="#111"/>
<circle cx="239.2" cy="318" r="0.85" fill="#111"/>
<circle cx="237.4" cy="332.7" r="0.85" fill="#111"/>
<circle cx="238.8" cy="342.2" r="0.85" fill="#111"/>
<circle cx="238.4" cy="343.8" r="0.85" fill="#111"/>
<text transform="translate(197,360.9)" font-size="6.2" text-anchor="middle" fill="#2a2a2a" font-weight="normal" stroke="#2a2a2a" stroke-width="0.1" >De novo</text>
<text transform="translate(238.7,360.9)" font-size="6.2" text-anchor="middle" fill="#2a2a2a" font-weight="normal" stroke="#2a2a2a" stroke-width="0.1" >Secondary</text>
<text transform="translate(163.1,247.3)" font-size="6.2" text-anchor="start" fill="#222" font-weight="normal" >EMD</text>
<line x1="196.8" y1="243" x2="196.8" y2="246.4" stroke="#222" stroke-width="0.9" />
<rect x="194.6" y="243" width="4.4" height="3.4" fill="#a4b883" stroke="none" stroke-width="0.5"/>
<line x1="194.3" y1="244.7" x2="199.2" y2="244.7" stroke="#1a1a1a" stroke-width="1" />
<text transform="translate(202.3,245.7)" font-size="6.2" text-anchor="start" fill="#222" font-weight="normal" >De novo</text>
<line x1="231.3" y1="243" x2="231.3" y2="246.4" stroke="#0f3552" stroke-width="0.9" />
<rect x="229" y="243" width="4.6" height="3.4" fill="#2d9ddb" stroke="none" stroke-width="0.5"/>
<line x1="228.8" y1="244.7" x2="233.9" y2="244.7" stroke="#0f3552" stroke-width="1" />
<text transform="translate(238.5,245.7)" font-size="6.2" text-anchor="start" fill="#222" font-weight="normal" >Secondary</text>
<text transform="translate(214.5,272.0)" font-size="6.2" fill="#222">r = 0.16 ; <tspan font-style="italic">P</tspan> = .5</text>
<text transform="translate(283.4,212.4)" font-size="10.5" text-anchor="start" fill="#111" font-weight="bold" >E</text>
<line x1="403.9" y1="228.1" x2="403.9" y2="359.3" stroke="#333333" stroke-width="1.25" />
<line x1="403.3" y1="358.8" x2="512.8" y2="358.8" stroke="#333333" stroke-width="1.25" />
<line x1="400.9" y1="231.8" x2="403.9" y2="231.8" stroke="#333333" stroke-width="1" />
<text transform="translate(397.9,233.95)" font-size="6.15" text-anchor="end" fill="#1e1e1e" font-weight="normal" stroke="#1e1e1e" stroke-width="0.1" >MAPK signaling</text>
<line x1="468.2" y1="231.8" x2="502.5" y2="231.8" stroke="#d2d2d2" stroke-width="0.6" />
<circle cx="468.2" cy="231.8" r="1.65" fill="#bebebe"/>
<circle cx="502.5" cy="231.8" r="1.8" fill="#980a26"/>
<line x1="400.9" y1="238.29" x2="403.9" y2="238.29" stroke="#333333" stroke-width="1" />
<text transform="translate(397.9,240.44)" font-size="6.15" text-anchor="end" fill="#1e1e1e" font-weight="normal" stroke="#1e1e1e" stroke-width="0.1" >Transcription factor</text>
<line x1="448.5" y1="238.29" x2="491.2" y2="238.29" stroke="#d2d2d2" stroke-width="0.6" />
<circle cx="448.5" cy="238.29" r="1.65" fill="#bebebe"/>
<circle cx="491.2" cy="238.29" r="1.8" fill="#980a26"/>
<line x1="400.9" y1="244.78" x2="403.9" y2="244.78" stroke="#333333" stroke-width="1" />
<text transform="translate(397.9,246.93)" font-size="6.15" text-anchor="end" fill="#1e1e1e" font-weight="normal" stroke="#1e1e1e" stroke-width="0.1" >Chromatin histone modifiers</text>
<line x1="448.5" y1="244.78" x2="486" y2="244.78" stroke="#d2d2d2" stroke-width="0.6" />
<circle cx="448.5" cy="244.78" r="1.65" fill="#bebebe"/>
<circle cx="486" cy="244.78" r="1.8" fill="#980a26"/>
<line x1="400.9" y1="251.27" x2="403.9" y2="251.27" stroke="#333333" stroke-width="1" />
<text transform="translate(397.9,253.42)" font-size="6.15" text-anchor="end" fill="#1e1e1e" font-weight="normal" stroke="#1e1e1e" stroke-width="0.1" >RNA abundance</text>
<line x1="433.7" y1="251.27" x2="480.4" y2="251.27" stroke="#d2d2d2" stroke-width="0.6" />
<circle cx="433.7" cy="251.27" r="1.65" fill="#bebebe"/>
<circle cx="480.4" cy="251.27" r="1.8" fill="#980a26"/>
<line x1="400.9" y1="257.76" x2="403.9" y2="257.76" stroke="#333333" stroke-width="1" />
<text transform="translate(397.9,259.91)" font-size="6.15" text-anchor="end" fill="#1e1e1e" font-weight="normal" stroke="#1e1e1e" stroke-width="0.1" >Immune signaling</text>
<line x1="433.7" y1="257.76" x2="474.6" y2="257.76" stroke="#d2d2d2" stroke-width="0.6" />
<circle cx="433.7" cy="257.76" r="1.65" fill="#bebebe"/>
<circle cx="474.6" cy="257.76" r="1.8" fill="#980a26"/>
<line x1="400.9" y1="264.25" x2="403.9" y2="264.25" stroke="#333333" stroke-width="1" />
<text transform="translate(397.9,266.4)" font-size="6.15" text-anchor="end" fill="#1e1e1e" font-weight="normal" stroke="#1e1e1e" stroke-width="0.1" >Protein homeostasis/ubiquitination</text>
<line x1="443.6" y1="264.25" x2="463.7" y2="264.25" stroke="#d2d2d2" stroke-width="0.6" />
<circle cx="443.6" cy="264.25" r="1.65" fill="#bebebe"/>
<circle cx="463.7" cy="264.25" r="1.8" fill="#980a26"/>
<line x1="400.9" y1="270.74" x2="403.9" y2="270.74" stroke="#333333" stroke-width="1" />
<text transform="translate(397.9,272.89)" font-size="6.15" text-anchor="end" fill="#1e1e1e" font-weight="normal" stroke="#1e1e1e" stroke-width="0.1" >RTK signaling</text>
<line x1="428.8" y1="270.74" x2="463.5" y2="270.74" stroke="#d2d2d2" stroke-width="0.6" />
<circle cx="428.8" cy="270.74" r="1.65" fill="#bebebe"/>
<circle cx="463.5" cy="270.74" r="1.8" fill="#980a26"/>
<line x1="400.9" y1="277.23" x2="403.9" y2="277.23" stroke="#333333" stroke-width="1" />
<text transform="translate(397.9,279.38)" font-size="6.15" text-anchor="end" fill="#1e1e1e" font-weight="normal" stroke="#1e1e1e" stroke-width="0.1" >Wnt/B-catenin signaling</text>
<line x1="428.8" y1="277.23" x2="458.3" y2="277.23" stroke="#d2d2d2" stroke-width="0.6" />
<circle cx="428.8" cy="277.23" r="1.65" fill="#bebebe"/>
<circle cx="458.3" cy="277.23" r="1.8" fill="#980a26"/>
<line x1="400.9" y1="283.72" x2="403.9" y2="283.72" stroke="#333333" stroke-width="1" />
<text transform="translate(397.9,285.87)" font-size="6.15" text-anchor="end" fill="#1e1e1e" font-weight="normal" stroke="#1e1e1e" stroke-width="0.1" >Chromatin other</text>
<line x1="433.7" y1="283.72" x2="452.8" y2="283.72" stroke="#d2d2d2" stroke-width="0.6" />
<circle cx="433.7" cy="283.72" r="1.65" fill="#bebebe"/>
<circle cx="452.8" cy="283.72" r="1.8" fill="#980a26"/>
<line x1="400.9" y1="290.21" x2="403.9" y2="290.21" stroke="#333333" stroke-width="1" />
<text transform="translate(397.9,292.36)" font-size="6.15" text-anchor="end" fill="#1e1e1e" font-weight="normal" stroke="#1e1e1e" stroke-width="0.1" >Genome integrity</text>
<line x1="443.4" y1="290.21" x2="452.8" y2="290.21" stroke="#d2d2d2" stroke-width="0.6" />
<circle cx="443.4" cy="290.21" r="1.65" fill="#bebebe"/>
<circle cx="452.8" cy="290.21" r="1.8" fill="#980a26"/>
<line x1="400.9" y1="296.7" x2="403.9" y2="296.7" stroke="#333333" stroke-width="1" />
<text transform="translate(397.9,298.85)" font-size="6.15" text-anchor="end" fill="#1e1e1e" font-weight="normal" stroke="#1e1e1e" stroke-width="0.1" >Cell cycle</text>
<line x1="423.5" y1="296.7" x2="441.9" y2="296.7" stroke="#d2d2d2" stroke-width="0.6" />
<circle cx="423.5" cy="296.7" r="1.65" fill="#bebebe"/>
<circle cx="441.9" cy="296.7" r="1.8" fill="#980a26"/>
<line x1="400.9" y1="303.19" x2="403.9" y2="303.19" stroke="#333333" stroke-width="1" />
<text transform="translate(397.9,305.34)" font-size="6.15" text-anchor="end" fill="#1e1e1e" font-weight="normal" stroke="#1e1e1e" stroke-width="0.1" >PI3K signaling</text>
<line x1="418.8" y1="303.19" x2="441.9" y2="303.19" stroke="#d2d2d2" stroke-width="0.6" />
<circle cx="418.8" cy="303.19" r="1.65" fill="#bebebe"/>
<circle cx="441.9" cy="303.19" r="1.8" fill="#980a26"/>
<line x1="400.9" y1="309.68" x2="403.9" y2="309.68" stroke="#333333" stroke-width="1" />
<text transform="translate(397.9,311.83)" font-size="6.15" text-anchor="end" fill="#1e1e1e" font-weight="normal" stroke="#1e1e1e" stroke-width="0.1" >Chromatin SWI/SNF complex</text>
<line x1="418.8" y1="309.68" x2="436.4" y2="309.68" stroke="#d2d2d2" stroke-width="0.6" />
<circle cx="418.8" cy="309.68" r="1.65" fill="#bebebe"/>
<circle cx="436.4" cy="309.68" r="1.8" fill="#980a26"/>
<line x1="400.9" y1="316.17" x2="403.9" y2="316.17" stroke="#333333" stroke-width="1" />
<text transform="translate(397.9,318.32)" font-size="6.15" text-anchor="end" fill="#1e1e1e" font-weight="normal" stroke="#1e1e1e" stroke-width="0.1" >JAK STAT Pathway</text>
<line x1="408.6" y1="316.17" x2="436.4" y2="316.17" stroke="#d2d2d2" stroke-width="0.6" />
<circle cx="408.6" cy="316.17" r="1.65" fill="#bebebe"/>
<circle cx="436.4" cy="316.17" r="1.8" fill="#980a26"/>
<line x1="400.9" y1="322.66" x2="403.9" y2="322.66" stroke="#333333" stroke-width="1" />
<text transform="translate(397.9,324.81)" font-size="6.15" text-anchor="end" fill="#1e1e1e" font-weight="normal" stroke="#1e1e1e" stroke-width="0.1" >NFKB signaling</text>
<line x1="418.8" y1="322.66" x2="436.4" y2="322.66" stroke="#d2d2d2" stroke-width="0.6" />
<circle cx="418.8" cy="322.66" r="1.65" fill="#bebebe"/>
<circle cx="436.4" cy="322.66" r="1.8" fill="#980a26"/>
<line x1="400.9" y1="329.15" x2="403.9" y2="329.15" stroke="#333333" stroke-width="1" />
<text transform="translate(397.9,331.3)" font-size="6.15" text-anchor="end" fill="#1e1e1e" font-weight="normal" stroke="#1e1e1e" stroke-width="0.1" >TGFB signaling</text>
<line x1="408.6" y1="329.15" x2="436.4" y2="329.15" stroke="#d2d2d2" stroke-width="0.6" />
<circle cx="408.6" cy="329.15" r="1.65" fill="#bebebe"/>
<circle cx="436.4" cy="329.15" r="1.8" fill="#980a26"/>
<line x1="400.9" y1="335.64" x2="403.9" y2="335.64" stroke="#333333" stroke-width="1" />
<text transform="translate(397.9,337.79)" font-size="6.15" text-anchor="end" fill="#1e1e1e" font-weight="normal" stroke="#1e1e1e" stroke-width="0.1" >G protein-coupled receptor signaling</text>
<line x1="418.8" y1="335.64" x2="430.7" y2="335.64" stroke="#d2d2d2" stroke-width="0.6" />
<circle cx="418.8" cy="335.64" r="1.65" fill="#bebebe"/>
<circle cx="430.7" cy="335.64" r="1.8" fill="#980a26"/>
<line x1="400.9" y1="342.13" x2="403.9" y2="342.13" stroke="#333333" stroke-width="1" />
<text transform="translate(397.9,344.28)" font-size="6.15" text-anchor="end" fill="#1e1e1e" font-weight="normal" stroke="#1e1e1e" stroke-width="0.1" >NOTCH signaling</text>
<line x1="413.9" y1="342.13" x2="425.2" y2="342.13" stroke="#d2d2d2" stroke-width="0.6" />
<circle cx="413.9" cy="342.13" r="1.65" fill="#bebebe"/>
<circle cx="425.2" cy="342.13" r="1.8" fill="#980a26"/>
<line x1="400.9" y1="348.62" x2="403.9" y2="348.62" stroke="#333333" stroke-width="1" />
<text transform="translate(397.9,350.77)" font-size="6.15" text-anchor="end" fill="#1e1e1e" font-weight="normal" stroke="#1e1e1e" stroke-width="0.1" >TOR signaling</text>
<line x1="413.9" y1="348.62" x2="425.2" y2="348.62" stroke="#d2d2d2" stroke-width="0.6" />
<circle cx="413.9" cy="348.62" r="1.65" fill="#bebebe"/>
<circle cx="425.2" cy="348.62" r="1.8" fill="#980a26"/>
<line x1="400.9" y1="355.11" x2="403.9" y2="355.11" stroke="#333333" stroke-width="1" />
<text transform="translate(397.9,357.26)" font-size="6.15" text-anchor="end" fill="#1e1e1e" font-weight="normal" stroke="#1e1e1e" stroke-width="0.1" >Apoptosis</text>
<line x1="413.9" y1="355.11" x2="420" y2="355.11" stroke="#d2d2d2" stroke-width="0.6" />
<circle cx="413.9" cy="355.11" r="1.65" fill="#bebebe"/>
<circle cx="420" cy="355.11" r="1.8" fill="#980a26"/>
<line x1="408.9" y1="358.8" x2="408.9" y2="361.5" stroke="#333333" stroke-width="1" />
<text transform="translate(408.9,370.7) scale(0.97,1)" font-size="6.4" text-anchor="middle" fill="#3a3a3a" font-weight="normal" stroke="#3a3a3a" stroke-width="0.1" >0</text>
<line x1="433.7" y1="358.8" x2="433.7" y2="361.5" stroke="#333333" stroke-width="1" />
<text transform="translate(433.7,370.7) scale(0.97,1)" font-size="6.4" text-anchor="middle" fill="#3a3a3a" font-weight="normal" stroke="#3a3a3a" stroke-width="0.1" >25</text>
<line x1="458.5" y1="358.8" x2="458.5" y2="361.5" stroke="#333333" stroke-width="1" />
<text transform="translate(458.5,370.7) scale(0.97,1)" font-size="6.4" text-anchor="middle" fill="#3a3a3a" font-weight="normal" stroke="#3a3a3a" stroke-width="0.1" >50</text>
<line x1="483.3" y1="358.8" x2="483.3" y2="361.5" stroke="#333333" stroke-width="1" />
<text transform="translate(483.3,370.7) scale(0.97,1)" font-size="6.4" text-anchor="middle" fill="#3a3a3a" font-weight="normal" stroke="#3a3a3a" stroke-width="0.1" >75</text>
<line x1="508.1" y1="358.8" x2="508.1" y2="361.5" stroke="#333333" stroke-width="1" />
<text transform="translate(508.1,370.7) scale(0.97,1)" font-size="6.4" text-anchor="middle" fill="#3a3a3a" font-weight="normal" stroke="#3a3a3a" stroke-width="0.1" >100</text>
<text transform="translate(458.6,381.7) scale(0.73,1)" font-size="7.9" text-anchor="middle" fill="#222" font-weight="normal" stroke="#222" stroke-width="0.25" >% Mutated samples</text>
<text transform="translate(289.2,293.5) rotate(-90) scale(0.76,1)" font-size="7.4" text-anchor="middle" fill="#222" font-weight="normal" stroke="#222" stroke-width="0.25" >Pathway</text>
<text transform="translate(421.9,223.5)" font-size="6.2" text-anchor="start" fill="#1e1e1e" font-weight="normal" stroke="#1e1e1e" stroke-width="0.06" >Signature</text>
<circle cx="452.7" cy="221.5" r="1.65" fill="#bebebe"/>
<text transform="translate(457.8,223.5)" font-size="6.2" text-anchor="start" fill="#1e1e1e" font-weight="normal" stroke="#1e1e1e" stroke-width="0.06" >BMA</text>
<circle cx="476.2" cy="221.8" r="1.8" fill="#980a26"/>
<text transform="translate(481,223.5)" font-size="6.2" text-anchor="start" fill="#1e1e1e" font-weight="normal" stroke="#1e1e1e" stroke-width="0.06" >EMD</text>
<rect x="0" y="0" width="520" height="1" fill="#585858"/>
<rect x="0" y="0" width="1" height="391" fill="#585858"/>
<rect x="1" y="1" width="0.2" height="389" fill="#888"/>
<rect x="519" y="0" width="1" height="391" fill="#585858"/>
<rect x="518.8" y="0" width="0.2" height="391" fill="#888"/>
<rect x="0" y="390" width="520" height="1" fill="#585858"/>
<rect x="0" y="389.7" width="520" height="0.3" fill="#888"/>
</svg>
</body></html>
